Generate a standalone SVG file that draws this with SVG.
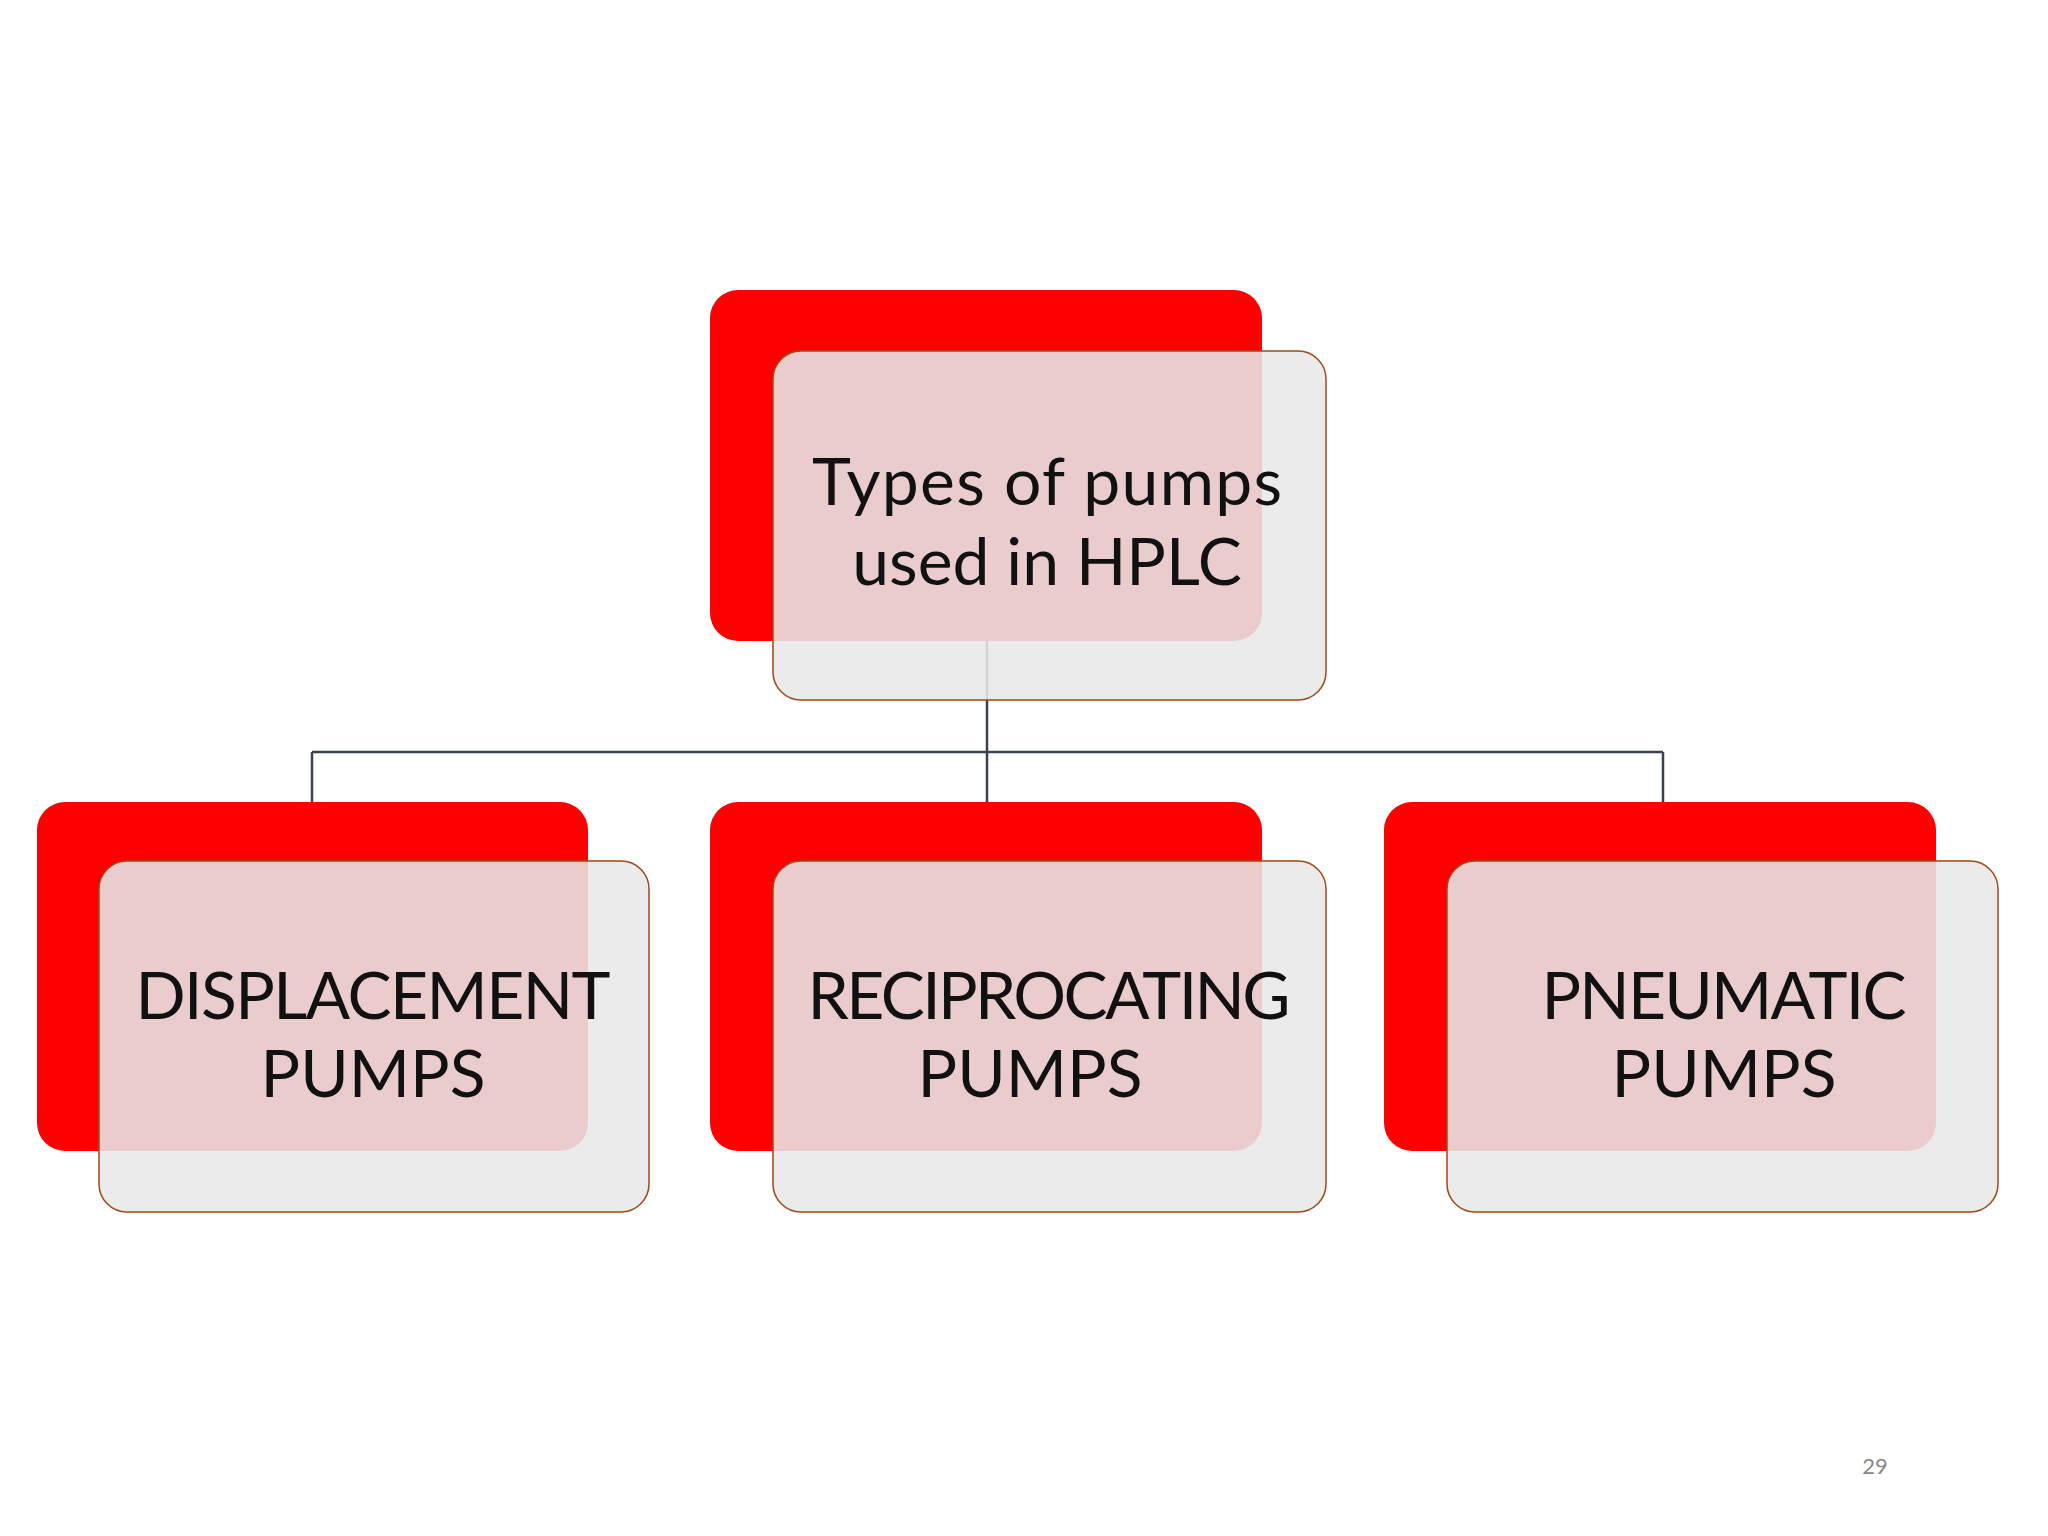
<svg xmlns="http://www.w3.org/2000/svg" width="2048" height="1536" viewBox="0 0 2048 1536">
<style>
.red{fill:#ff0000}
.card{fill:#e8e8e8;fill-opacity:0.88;stroke:#9c4a1a;stroke-width:1.5}
.t{font-family:Lato,"Open Sans",sans-serif;font-size:66px;fill:#111;text-anchor:middle}
.c{fill:none;stroke:#3a4250;stroke-width:2.5}
</style>
<rect width="2048" height="1536" fill="#fff"/>
<g id="connectors">
<path class="c" d="M987 641V752M312 752H1663M312 752V802M987 752V802M1663 752V802"/>
</g>
<g id="top">
<rect class="red" x="710" y="290" width="552" height="351" rx="28"/>
<rect class="card" x="773" y="351" width="553" height="349" rx="28"/>
<text class="t"><tspan x="1047" y="505" textLength="470">Types of pumps</tspan><tspan x="1047" y="585">used in HPLC</tspan></text>
</g>
<g id="displacement">
<rect class="red" x="37" y="802" width="551" height="349" rx="28"/>
<rect class="card" x="99" y="861" width="550" height="351" rx="28"/>
<text class="t"><tspan x="373" y="1019" textLength="475">DISPLACEMENT</tspan><tspan x="373" y="1097">PUMPS</tspan></text>
</g>
<g id="reciprocating">
<rect class="red" x="710" y="802" width="552" height="349" rx="28"/>
<rect class="card" x="773" y="861" width="553" height="351" rx="28"/>
<text class="t"><tspan x="1049" y="1019" textLength="483">RECIPROCATING</tspan><tspan x="1030" y="1097">PUMPS</tspan></text>
</g>
<g id="pneumatic">
<rect class="red" x="1384" y="802" width="552" height="349" rx="28"/>
<rect class="card" x="1447" y="861" width="551" height="351" rx="28"/>
<text class="t"><tspan x="1724" y="1019" textLength="365">PNEUMATIC</tspan><tspan x="1724" y="1097">PUMPS</tspan></text>
</g>
<text x="1875" y="1474" font-family="Lato,sans-serif" font-size="22" fill="#888" text-anchor="middle">29</text>
</svg>
